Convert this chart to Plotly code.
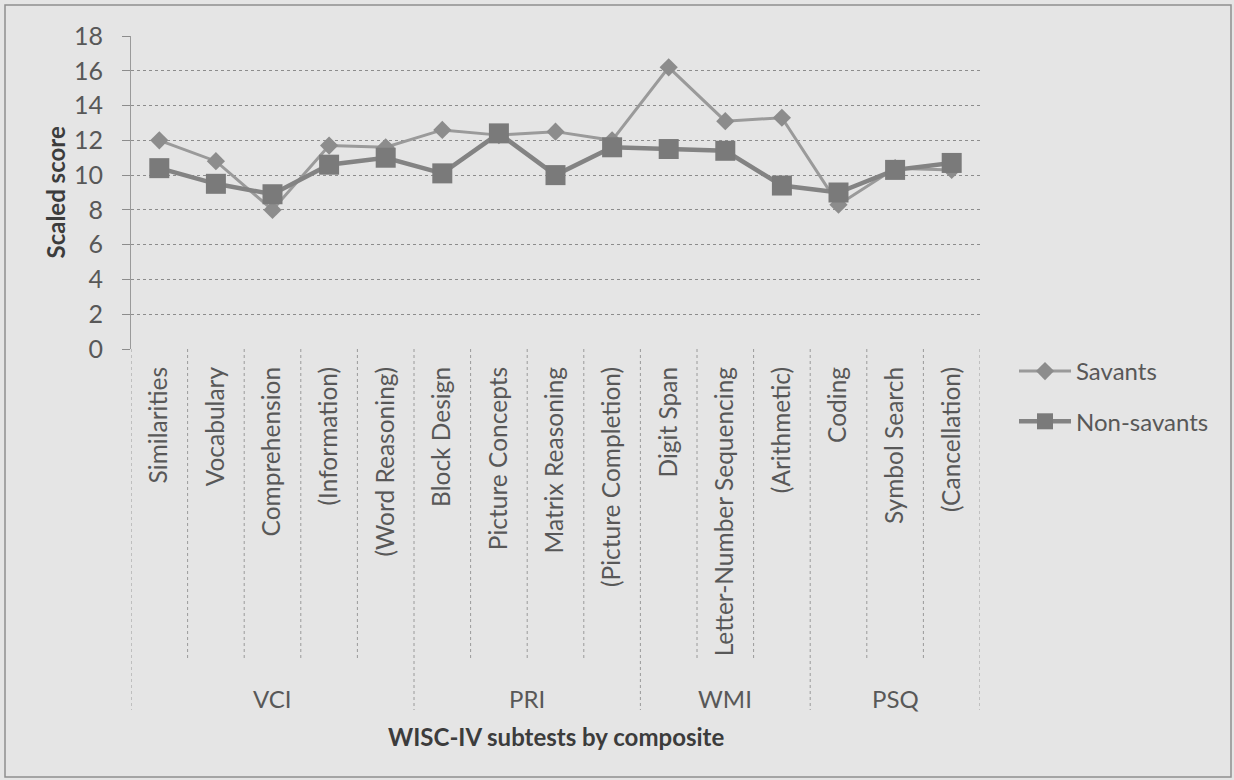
import plotly.graph_objects as go

# WISC-IV subtest scaled scores, grouped by composite index
subtests = [
    "Similarities", "Vocabulary", "Comprehension", "(Information)", "(Word Reasoning)",
    "Block Design", "Picture Concepts", "Matrix Reasoning", "(Picture Completion)",
    "Digit Span", "Letter-Number Sequencing", "(Arithmetic)",
    "Coding", "Symbol Search", "(Cancellation)",
]
composites = ["VCI", "PRI", "WMI", "PSQ"]
composite_sizes = [5, 4, 3, 3]

savants = [12.0, 10.8, 8.0, 11.7, 11.6, 12.6, 12.3, 12.5, 12.0,
           16.2, 13.1, 13.3, 8.3, 10.4, 10.3]
non_savants = [10.4, 9.5, 8.9, 10.6, 11.0, 10.1, 12.4, 10.0, 11.6,
               11.5, 11.4, 9.4, 9.0, 10.3, 10.7]

y_ticks = list(range(0, 19, 2))

FONT = "Lato"
BG = "#e5e5e5"
TEXT = "#585858"
GRID = "#8c8c8c"

# pixel frame of the plotting area inside the 1234x780 page
W, H = 1234, 780
L, R, T, B = 131, 980, 36, 349


def px_x(p):
    return (p - L) / (R - L)


def px_y(p):
    return (B - p) / (B - T)


xs = [i + 0.5 for i in range(len(subtests))]

fig = go.Figure()
fig.add_trace(go.Scatter(
    x=xs, y=savants, name="Savants", mode="lines+markers",
    legendgroup="s",
    line=dict(color="#9a9a9a", width=3),
    marker=dict(symbol="diamond", size=14, color="#8c8c8c",
                line=dict(width=0)),
))
fig.add_trace(go.Scatter(
    x=xs, y=non_savants, name="Non-savants", mode="lines+markers",
    legendgroup="n",
    line=dict(color="#838383", width=4.5),
    marker=dict(symbol="square", size=20, color="#7a7a7a",
                line=dict(width=0)),
))

shapes = []
# separators between subtests, and longer ones between composites
bounds = [0]
for n in composite_sizes:
    bounds.append(bounds[-1] + n)
for i in range(len(subtests) + 1):
    long_line = i in bounds
    shapes.append(dict(
        type="line", xref="x", yref="paper", x0=i, x1=i,
        y0=0, y1=px_y(710 if long_line else 660),
        line=dict(color="#9a9a9a", width=1, dash="dot"),
    ))

# outer chart frame
shapes.append(dict(
    type="rect", xref="paper", yref="paper",
    x0=px_x(5), x1=px_x(1231), y0=px_y(5), y1=px_y(777),
    line=dict(color="#8f8f8f", width=1.5), layer="below",
))

annotations = []
for name, a, b in zip(composites, bounds[:-1], bounds[1:]):
    annotations.append(dict(
        text=name, x=(a + b) / 2, xref="x", y=px_y(698), yref="paper",
        showarrow=False, xanchor="center", yanchor="middle",
        font=dict(family=FONT, size=24, color=TEXT),
    ))
annotations.append(dict(
    text="<b>WISC-IV subtests by composite</b>", x=0.5, xref="paper",
    y=px_y(736), yref="paper", showarrow=False,
    xanchor="center", yanchor="middle",
    font=dict(family=FONT, size=24, color="#3c3c3c"),
))
annotations.append(dict(
    text="<b>Scaled score</b>", x=px_x(55), xref="paper",
    y=0.5, yref="paper", showarrow=False, textangle=-90,
    xanchor="center", yanchor="middle",
    font=dict(family=FONT, size=24, color="#3c3c3c"),
))

fig.update_layout(
    width=W, height=H,
    margin=dict(l=L, r=W - R, t=T, b=H - B, pad=0),
    paper_bgcolor=BG, plot_bgcolor=BG,
    font=dict(family=FONT, size=24, color=TEXT),
    showlegend=True,
    legend=dict(
        x=px_x(1014), y=px_y(349), xanchor="left", yanchor="top",
        bgcolor="rgba(0,0,0,0)", borderwidth=0,
        itemwidth=52, tracegroupgap=16, traceorder="grouped",
        font=dict(family=FONT, size=24, color=TEXT),
    ),
    xaxis=dict(
        range=[0, len(subtests)], tickmode="array",
        tickvals=xs, ticktext=subtests, tickangle=-90,
        ticks="", showgrid=False, zeroline=False, showline=False,
        ticklabelstandoff=12,
        tickfont=dict(family=FONT, size=24.5, color=TEXT),
    ),
    yaxis=dict(
        range=[0, 18], tickmode="array", tickvals=y_ticks,
        showgrid=True, gridcolor=GRID, griddash="dot", gridwidth=1,
        zeroline=False, showline=True, linecolor="#9a9a9a", linewidth=1,
        ticks="outside", ticklen=8, tickcolor=GRID,
        ticklabelstandoff=14,
        tickfont=dict(family=FONT, size=25, color=TEXT),
    ),
    shapes=shapes,
    annotations=annotations,
)

fig.write_html("out.html")
